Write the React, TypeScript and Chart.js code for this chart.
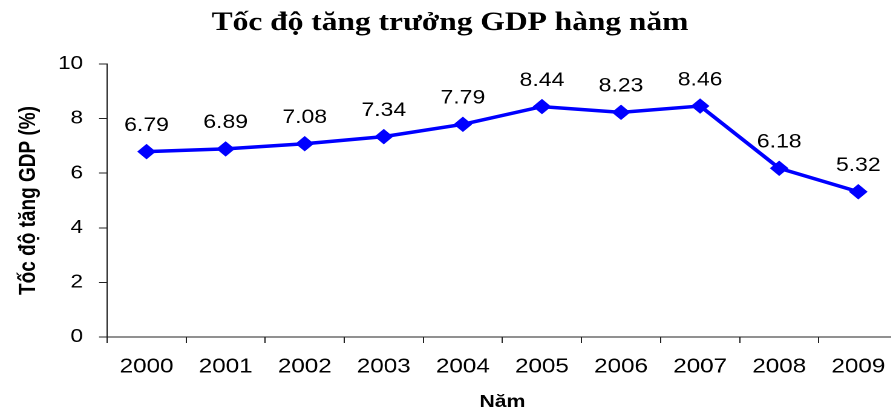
import { useEffect, useRef } from 'react';
import { Chart, registerables } from 'chart.js';

Chart.register(...registerables);

// Annual GDP growth, 2000–2009
const years = ['2000', '2001', '2002', '2003', '2004', '2005', '2006', '2007', '2008', '2009'];
const growth = [6.79, 6.89, 7.08, 7.34, 7.79, 8.44, 8.23, 8.46, 6.18, 5.32];
const yTicks = [0, 2, 4, 6, 8, 10];

const chartTitle = 'Tốc độ tăng trưởng GDP hàng năm';
const yTitle = 'Tốc độ tăng GDP (%)';
const xTitle = 'Năm';

// The whole figure is drawn slightly narrow and widened horizontally
const STRETCH = 1.21;
const CANVAS_W = 750;
const CANVAS_H = 414;

const SANS = '"Liberation Sans", Arial, sans-serif';
const SERIF = '"Liberation Serif", "Times New Roman", serif';

// Draws each point's value above its marker
const valueLabels = {
  id: 'valueLabels',
  afterDatasetsDraw(chart: any) {
    const { ctx } = chart;
    chart.data.datasets.forEach((ds: any, di: number) => {
      const meta = chart.getDatasetMeta(di);
      meta.data.forEach((pt: any, i: number) => {
        const v = ds.data[i] as number;
        ctx.save();
        ctx.font = `19px ${SANS}`;
        ctx.fillStyle = '#000';
        ctx.textAlign = 'center';
        ctx.textBaseline = 'middle';
        ctx.fillText(v.toFixed(2), pt.x, pt.y - 26);
        ctx.restore();
      });
    });
  },
};

export default function App() {
  const ref = useRef<HTMLCanvasElement | null>(null);

  useEffect(() => {
    if (!ref.current) return;
    const chart = new Chart(ref.current, {
      type: 'line',
      data: {
        labels: years,
        datasets: [
          {
            data: growth,
            borderColor: '#0000ff',
            backgroundColor: '#0000ff',
            borderWidth: 3.5,
            pointStyle: 'rectRot',
            pointRadius: 7,
            pointBorderWidth: 1,
            pointBackgroundColor: '#0000ff',
            pointBorderColor: '#0000ff',
            tension: 0,
            clip: false,
          },
        ],
      },
      options: {
        animation: false,
        responsive: false,
        devicePixelRatio: 2,
        layout: { padding: { left: 0, right: 6.2, top: 0, bottom: 0 } },
        plugins: {
          legend: { display: false },
          tooltip: { enabled: false },
          title: {
            display: true,
            text: chartTitle,
            color: '#000',
            font: { family: SERIF, size: 26, weight: 'bold', lineHeight: 1.2 },
            padding: { top: 7.7, bottom: 25.1 },
          },
        },
        scales: {
          x: {
            type: 'category',
            offset: true,
            grid: {
              offset: true,
              drawOnChartArea: false,
              drawTicks: true,
              tickLength: 6,
              color: '#222',
            },
            border: { display: true, color: '#222', width: 1 },
            ticks: {
              color: '#000',
              font: { family: SANS, size: 20 },
              padding: 12,
              maxRotation: 0,
              autoSkip: false,
            },
            title: {
              display: true,
              text: xTitle,
              color: '#000',
              font: { family: SANS, size: 17.5, weight: 'bold', lineHeight: 1.2 },
              padding: { top: 0, bottom: 1.5 },
            },
            afterFit(scale: any) {
              scale.height = CANVAS_H - 337;
            },
          },
          y: {
            min: 0,
            max: 10,
            afterBuildTicks(scale: any) {
              scale.ticks = yTicks.map((v) => ({ value: v }));
            },
            grid: {
              drawOnChartArea: false,
              drawTicks: true,
              tickLength: 6.6,
              color: '#222',
            },
            border: { display: true, color: '#222', width: 1 },
            ticks: {
              color: '#000',
              font: { family: SANS, size: 18.6 },
              padding: 13.2,
            },
            title: {
              display: true,
              text: yTitle,
              color: '#000',
              font: { family: SANS, size: 19, weight: 'bold', lineHeight: 1.2 },
              padding: { top: 12.6, bottom: 0 },
            },
            afterFit(scale: any) {
              scale.width = 107 / STRETCH;
            },
          },
        },
      },
      plugins: [valueLabels],
    });
    return () => chart.destroy();
  }, []);

  return (
    <div
      style={{
        position: 'absolute',
        left: 0,
        top: 0,
        width: 891,
        height: 410,
        overflow: 'hidden',
        background: '#fff',
      }}
    >
      <div
        style={{
          width: CANVAS_W,
          height: CANVAS_H,
          transform: `scaleX(${STRETCH})`,
          transformOrigin: '0 0',
        }}
      >
        <canvas ref={ref} width={CANVAS_W} height={CANVAS_H} style={{ width: CANVAS_W, height: CANVAS_H }} />
      </div>
    </div>
  );
}
